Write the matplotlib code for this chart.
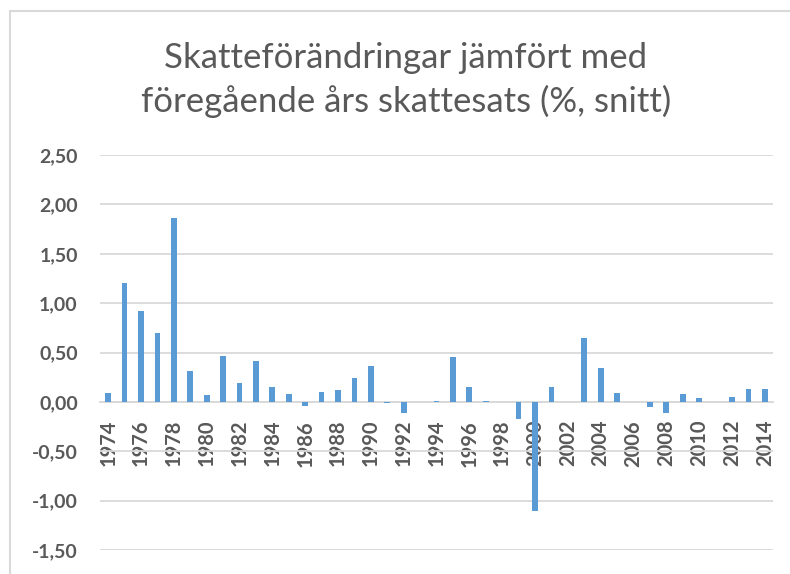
import matplotlib
matplotlib.use('Agg')
import matplotlib.pyplot as plt
from matplotlib.patches import Rectangle
from matplotlib.ticker import FuncFormatter

# ---- Data ----
years = list(range(1974, 2015))
values = [
    0.09, 1.20, 0.92, 0.70, 1.86, 0.31, 0.07, 0.46, 0.19, 0.415,   # 1974-1983
    0.15, 0.08, -0.04, 0.10, 0.12, 0.24, 0.36, -0.01, -0.11, 0.0,  # 1984-1993
    0.005, 0.45, 0.15, 0.005, -0.005, -0.17, -1.10, 0.15, -0.005, 0.65,  # 1994-2003
    0.34, 0.09, 0.0, -0.05, -0.11, 0.08, 0.04, -0.005, 0.05, 0.13,  # 2004-2013
    0.13,                                                           # 2014
]
y_ticks = [-1.5, -1.0, -0.5, 0.0, 0.5, 1.0, 1.5, 2.0, 2.5]
title_lines = ['Skatteförändringar jämfört med',
               'föregående års skattesats (%, snitt)']

BAR_COLOR = '#5B9BD5'
TEXT_COLOR = '#595959'
GRID_COLOR = '#d9d9d9'
W, H = 790, 574

plt.rcParams['font.family'] = ['Lato', 'DejaVu Sans']

fig = plt.figure(figsize=(W / 100, H / 100), dpi=100)
ax = fig.add_axes([100 / W, 1 - 550 / H, 673 / W, 395 / H])

x = list(range(len(years)))
ax.bar(x, values, width=0.35, color=BAR_COLOR, zorder=3)

# move the category axis to the zero line first (this resets the ticks)
for side in ['top', 'right', 'left']:
    ax.spines[side].set_visible(False)
ax.spines['bottom'].set_position(('data', 0))
ax.spines['bottom'].set_color(GRID_COLOR)
ax.spines['bottom'].set_linewidth(1.3)

ax.set_xlim(-0.5, len(years) - 0.5)
ax.set_ylim(-1.5, 2.5)
ax.set_yticks(y_ticks)
ax.yaxis.set_major_formatter(FuncFormatter(lambda v, _: f'{v:.2f}'.replace('.', ',')))
ax.grid(axis='y', color=GRID_COLOR, linewidth=1.3, zorder=0)

ax.set_xticks(x[::2])
ax.set_xticklabels([str(y) for y in years[::2]])

ax.tick_params(axis='x', length=0, pad=13, labelsize=14.5,
               labelcolor=TEXT_COLOR, labelrotation=90)
ax.tick_params(axis='y', length=0, pad=16, labelsize=14, labelcolor=TEXT_COLOR)
for lbl in ax.get_yticklabels() + ax.get_xticklabels():
    lbl.set_fontweight('bold')

# chart frame (partly cropped in the reference)
fig.patches.append(Rectangle((10 / W, -0.1), 1.2, 1 - 11 / H + 0.1,
                             transform=fig.transFigure, fill=False,
                             edgecolor=GRID_COLOR, linewidth=1.5))

fig.text(406 / W, 1 - 68 / H, title_lines[0], ha='center', va='baseline',
         fontsize=25, color=TEXT_COLOR)
fig.text(406 / W, 1 - 112 / H, title_lines[1], ha='center', va='baseline',
         fontsize=25, color=TEXT_COLOR)

fig.savefig('out.png', dpi=100)
